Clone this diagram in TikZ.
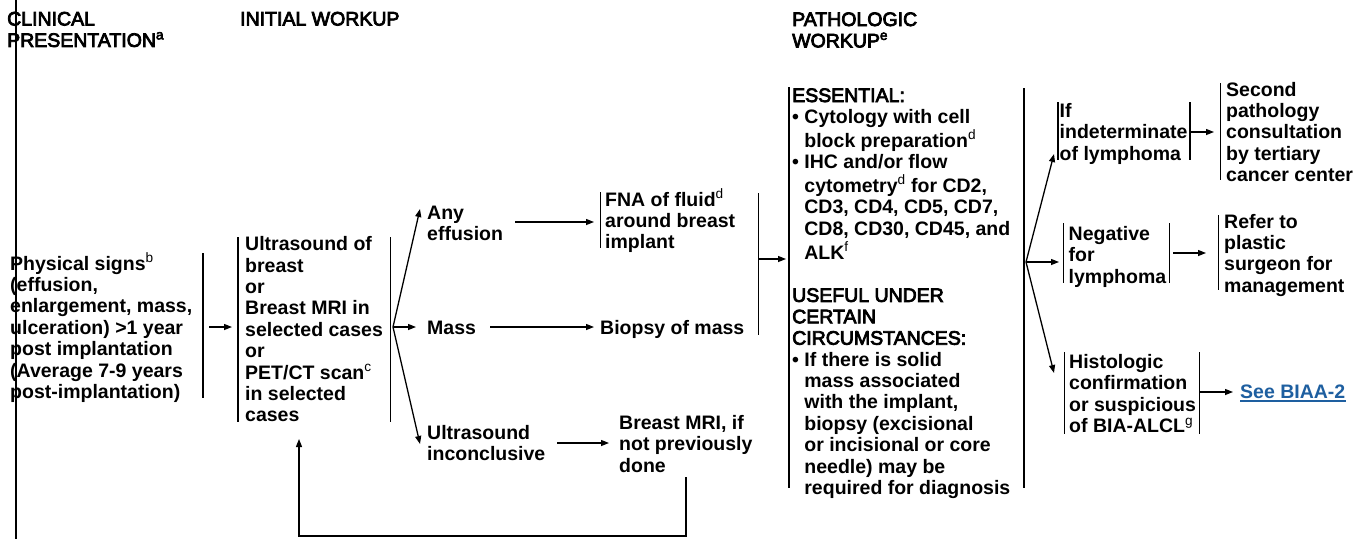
\documentclass[tikz,border=0pt]{standalone}
\usepackage{fontspec}
\setmainfont{Liberation Sans}
\newfontfamily\hfont[FakeBold=4]{Liberation Sans}
\usetikzlibrary{arrows.meta,calc}
\definecolor{linkblue}{RGB}{30,95,160}
\newcommand\lines[1]{\begin{tabular}[t]{@{}l@{}}#1\end{tabular}}
\newcommand\hin{\hspace*{12.2pt}}
\newcommand\hd[1]{{\mdseries\hfont #1}}
\tikzset{
  txt/.style={anchor=base west, inner sep=0pt, font=\fontsize{19.5}{21.4}\selectfont\bfseries},
  hdr/.style={anchor=base west, inner sep=0pt, font=\fontsize{19.5}{21.4}\selectfont\mdseries\hfont},
  bar/.style={line width=1.3pt},
  arr/.style={line width=1.3pt, -{Triangle[length=8pt,width=6pt]}},
}
\begin{document}
\begin{tikzpicture}[x=1pt,y=-1pt]
\useasboundingbox (0,0) rectangle (1360,539);
\fill[white] (0,0) rectangle (1360,539);

% left page rule
\draw[line width=2pt] (16,0) -- (16,539);

% headers
\node[hdr] (h1) at (7,25.5) {\lines{CLINICAL\\PRESENTATION\textsuperscript{a}}};
\node[hdr] (h2) at (240,25.5) {INITIAL WORKUP};
\node[hdr] (h3) at (792,26) {\lines{PATHOLOGIC\\WORKUP\textsuperscript{e}}};

% clinical presentation
\node[txt] (phys) at (10,270) {\lines{Physical signs\textsuperscript{\mdseries b}\\(effusion,\\enlargement, mass,\\ulceration) >1 year\\post implantation\\(Average 7-9 years\\post-implantation)}};
\draw[bar] (203,253) -- (203,398);
\coordinate (physR) at (209,327);
\coordinate (usIn) at (232,327);
\draw[arr] (physR) -- (usIn);

% initial workup
\node[txt] (us) at (245,250.7) {\lines{Ultrasound of\\breast\\or\\Breast MRI in\\selected cases\\or\\PET/CT scan\textsuperscript{\mdseries c}\\in selected\\cases}};
\draw[bar] (238,237) -- (238,422);
\draw[bar] (390.5,237) -- (390.5,422);

\coordinate (fanA) at (393,327);
\coordinate (effT) at (420,209);
\coordinate (massT) at (416,327);
\coordinate (uincT) at (420,444);
\draw[arr] (fanA) -- (effT);
\draw[arr] (fanA) -- (massT);
\draw[arr] (fanA) -- (uincT);

\node[txt] (eff) at (427,219) {\lines{Any\\effusion}};
\node[txt] (mass) at (427,334) {Mass};
\node[txt] (uinc) at (427,439.3) {\lines{Ultrasound\\inconclusive}};

\node[txt] (fna) at (605,206) {\lines{FNA of fluid\textsuperscript{\mdseries d}\\around breast\\implant}};
\draw[bar] (600.7,192) -- (600.7,248);
\node[txt] (bio) at (600,334) {Biopsy of mass};
\node[txt] (mri) at (619,429.3) {\lines{Breast MRI, if\\not previously\\done}};

\coordinate (effR) at (515,222);
\coordinate (fnaL) at (594,222);
\draw[arr] (effR) -- (fnaL);
\coordinate (massR) at (490,327);
\coordinate (bioL) at (594,327);
\draw[arr] (massR) -- (bioL);
\coordinate (uincR) at (557,443);
\coordinate (mriL) at (609,443);
\draw[arr] (uincR) -- (mriL);

% loop back
\coordinate (mriB) at (686,477);
\coordinate (loopR) at (686,536);
\coordinate (loopL) at (299,536);
\coordinate (usB) at (299,439);
\draw[arr] (mriB) -- (loopR) -- (loopL) -- (usB);

% to pathologic workup
\draw[bar] (758.3,193) -- (758.3,335);
\coordinate (grpR) at (758.3,259);
\coordinate (pathL) at (786,259);
\draw[arr] (grpR) -- (pathL);

% pathologic workup
\draw[bar] (789,87) -- (789,488);
\node[txt] (path) at (792,102) {\lines{\hd{ESSENTIAL:}\\
• Cytology with cell\\
\hin block preparation\textsuperscript{\mdseries d}\\
• IHC and/or flow\\
\hin cytometry\textsuperscript{\mdseries d} for CD2,\\
\hin CD3, CD4, CD5, CD7,\\
\hin CD8, CD30, CD45, and\\
\hin ALK\textsuperscript{\mdseries f}\\ \\
\hd{USEFUL UNDER}\\
\hd{CERTAIN}\\
\hd{CIRCUMSTANCES:}\\
• If there is solid\\
\hin mass associated\\
\hin with the implant,\\
\hin biopsy (excisional\\
\hin or incisional or core\\
\hin needle) may be\\
\hin required for diagnosis}};
\draw[bar] (1024,88) -- (1024,488);

\coordinate (fanB) at (1026,262);
\coordinate (indT) at (1054,154);
\coordinate (negT) at (1059,262);
\coordinate (hisT) at (1054,373);
\draw[arr] (fanB) -- (indT);
\draw[arr] (fanB) -- (negT);
\draw[arr] (fanB) -- (hisT);

% results
\node[txt] (ind) at (1059.5,117.5) {\lines{If\\indeterminate\\of lymphoma}};
\draw[bar] (1058,102) -- (1058,160);
\draw[bar] (1190,102) -- (1190,160);
\coordinate (indR) at (1190,132);
\coordinate (secL) at (1214,132);
\draw[arr] (indR) -- (secL);
\node[txt] (sec) at (1226,96) {\lines{Second\\pathology\\consultation\\by tertiary\\cancer center}};
\draw[bar] (1220.7,83) -- (1220.7,180);

\node[txt] (neg) at (1068.5,240.5) {\lines{Negative\\for\\lymphoma}};
\draw[bar] (1063.3,223) -- (1063.3,283);
\draw[bar] (1169.3,223) -- (1169.3,283);
\coordinate (negR) at (1173,253);
\coordinate (refL) at (1206,253);
\draw[arr] (negR) -- (refL);
\node[txt] (ref) at (1224,228) {\lines{Refer to\\plastic\\surgeon for\\management}};
\draw[bar] (1218.3,215) -- (1218.3,290);

\node[txt] (his) at (1069,368.5) {\lines{Histologic\\confirmation\\or suspicious\\of BIA-ALCL\textsuperscript{\mdseries g}}};
\draw[bar] (1064.3,352) -- (1064.3,433.5);
\draw[bar] (1199.3,352) -- (1199.3,433.5);
\coordinate (hisR) at (1199.3,392);
\coordinate (linkL) at (1233,392);
\draw[arr] (hisR) -- (linkL);
\node[txt, text=linkblue] (link) at (1240,398) {See BIAA-2};
\draw[linkblue, line width=1.3pt] ($(link.base west)+(0,3)$) -- ($(link.base east)+(0,3)$);
\end{tikzpicture}
\end{document}
